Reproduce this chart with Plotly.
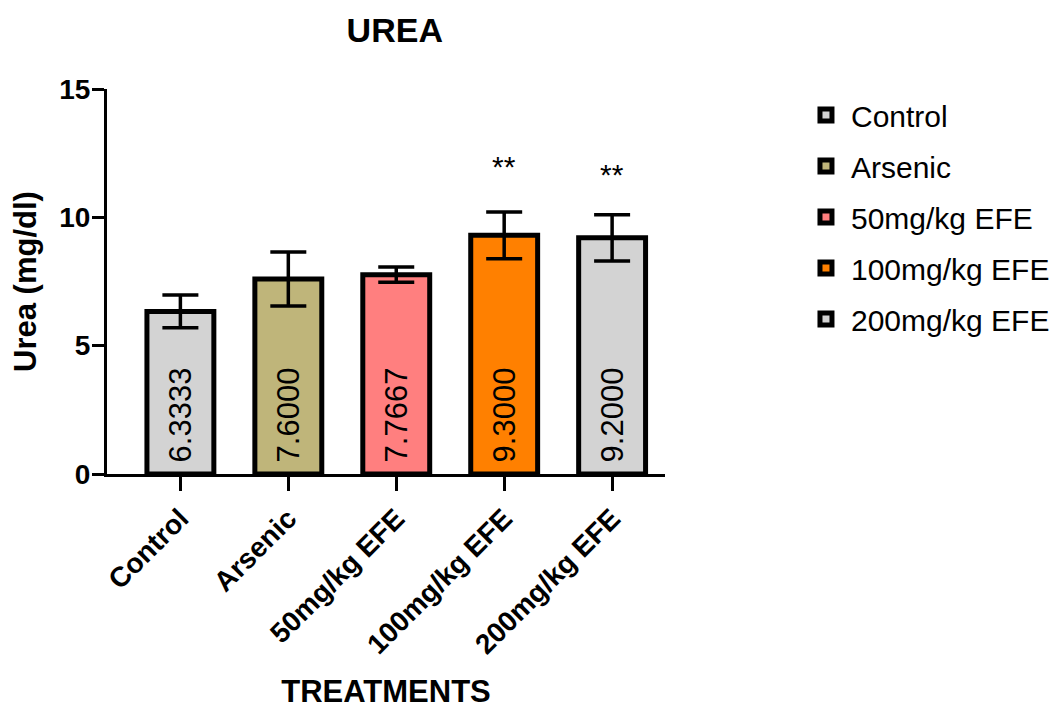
import plotly.graph_objects as go

categories = ["Control", "Arsenic", "50mg/kg EFE", "100mg/kg EFE", "200mg/kg EFE"]
means = [6.3333, 7.6000, 7.7667, 9.3000, 9.2000]
errors = [0.64, 1.05, 0.30, 0.91, 0.90]
colors = ["#D3D3D3", "#BFB57A", "#FF7F7F", "#FF8000", "#D3D3D3"]
sig_labels = ["", "", "", "**", "**"]
sig_y = [None, None, None, 12.0, 11.65]

FONT = "Liberation Sans, Arial, sans-serif"

fig = go.Figure()
for i, cat in enumerate(categories):
    fig.add_trace(go.Bar(
        x=[i], y=[means[i]], name=cat, legendgroup=cat,
        width=0.62,
        marker=dict(color=colors[i], line=dict(color="black", width=5)),
        error_y=dict(type="data", array=[errors[i]], visible=True,
                     color="black", thickness=3.5, width=18),
        texttemplate="&nbsp;%{y:.4f}", textposition="inside", textangle=-90,
        insidetextanchor="start", insidetextfont=dict(size=31, color="black", family=FONT),
        cliponaxis=False,
    ))

for i, lab in enumerate(sig_labels):
    if lab:
        fig.add_annotation(x=i, y=sig_y[i], text=lab, showarrow=False,
                           font=dict(size=30, color="black", family=FONT))

fig.update_layout(
    width=1051, height=701,
    plot_bgcolor="white", paper_bgcolor="white",
    barmode="overlay",
    margin=dict(l=99, r=394, t=81, b=235, autoexpand=False),
    font=dict(family=FONT, color="black"),
    title=dict(text="<b>UREA</b>", x=0.368, xanchor="center", y=0.969, yanchor="middle",
               font=dict(size=34, family=FONT, color="black")),
    legend=dict(xref="container", yref="container", x=0.7545, y=0.8845,
                xanchor="left", yanchor="top",
                font=dict(size=30, family=FONT, color="black"),
                tracegroupgap=9, itemwidth=40),
    showlegend=True,
)
fig.update_xaxes(
    range=[-0.68, 4.49], tickvals=list(range(len(categories))),
    ticktext=["<b>%s</b>" % c for c in categories],
    tickangle=-45, tickfont=dict(size=28, family=FONT, color="black"),
    showline=True, linecolor="black", linewidth=3, ticks="outside", ticklen=14,
    tickwidth=3, tickcolor="black", showgrid=False, zeroline=False, automargin=False,
    title=dict(text="<b>TREATMENTS</b>", font=dict(size=31, family=FONT, color="black"), standoff=22),
)
fig.update_yaxes(
    range=[0, 15], tickvals=[0, 5, 10, 15], ticktext=["<b>0</b>", "<b>5</b>", "<b>10</b>", "<b>15</b>"],
    tickfont=dict(size=28, family=FONT, color="black"),
    showline=True, linecolor="black", linewidth=3, ticks="outside", ticklen=12,
    tickwidth=3, tickcolor="black", showgrid=False, zeroline=False, automargin=False,
    ticklabelstandoff=-4,
    title=dict(text="<b>Urea (mg/dl)</b>", font=dict(size=31, family=FONT, color="black"), standoff=14),
)

fig.write_html("out.html")
